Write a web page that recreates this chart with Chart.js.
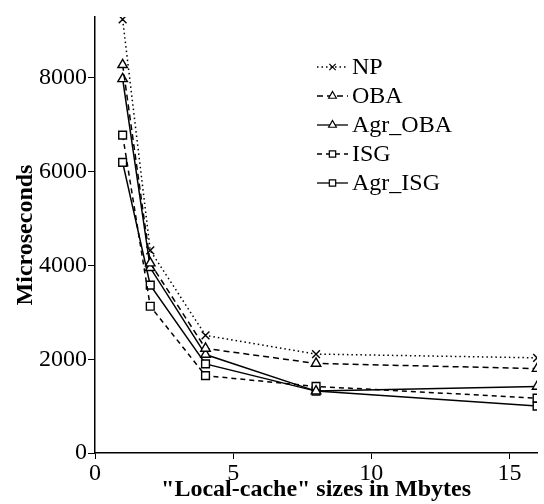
<!DOCTYPE html>
<html>
<head>
<meta charset="utf-8">
<script src="https://cdn.jsdelivr.net/npm/chart.js@4.4.1/dist/chart.umd.min.js"></script>
<style>
  html, body { margin: 0; padding: 0; background: #fff; }
  #wrap { width: 544px; height: 504px; }
</style>
</head>
<body>
<div id="wrap"><canvas id="chart"></canvas></div>
<script>
// cache sizes (Mbytes)
const cacheSizes = [1, 2, 4, 8, 16];

// series values (microseconds)
const npValues     = [9250, 4320, 2510, 2110, 2030];
const obaValues    = [8280, 4050, 2230, 1910, 1800];
const agrObaValues = [7980, 3950, 2100, 1320, 1420];
const isgValues    = [6780, 3130, 1650, 1420, 1170];
const agrIsgValues = [6200, 3580, 1900, 1320, 1000];

const xTicks = [0, 5, 10, 15];
const yTicks = [0, 2000, 4000, 6000, 8000];

const serif = "'Liberation Serif', 'Times New Roman', serif";

const toPoints = (vals) => vals.map((v, i) => ({ x: cacheSizes[i], y: v }));

const makeSet = (label, vals, dash, style) => ({
  label: label,
  data: toPoints(vals),
  borderColor: "#000",
  backgroundColor: "#fff",
  borderWidth: 1.5,
  borderDash: dash,
  pointStyle: style,
  pointRadius: 5.5,
  pointBorderWidth: 1.4,
  pointBorderColor: "#000",
  pointBackgroundColor: "#fff",
  tension: 0,
});

// legend drawn inside the plot area
const innerLegend = {
  id: "innerLegend",
  afterDraw(chart) {
    const ctx = chart.ctx;
    const x0 = 317, x1 = 348, y0 = 67, step = 29;
    chart.data.datasets.forEach((ds, i) => {
      const y = y0 + i * step;
      ctx.save();
      ctx.strokeStyle = "#000";
      ctx.lineWidth = 1.3;
      ctx.setLineDash(ds.borderDash);
      ctx.beginPath();
      ctx.moveTo(x0, y);
      ctx.lineTo(x1, y);
      ctx.stroke();
      ctx.setLineDash([]);
      ctx.fillStyle = "#fff";
      ctx.lineWidth = 1.2;
      Chart.helpers.drawPoint(ctx, { pointStyle: ds.pointStyle, rotation: 0, radius: 4.5, borderWidth: 1.2 }, (x0 + x1) / 2, y);
      ctx.fillStyle = "#000";
      ctx.font = "24px " + serif;
      ctx.textBaseline = "middle";
      ctx.fillText(ds.label, x1 + 4, y + 1);
      ctx.restore();
    });
  },
};

new Chart(document.getElementById("chart"), {
  type: "line",
  plugins: [innerLegend],
  data: {
    datasets: [
      makeSet("NP", npValues, [1.5, 3], "crossRot"),
      makeSet("OBA", obaValues, [6, 4], "triangle"),
      makeSet("Agr_OBA", agrObaValues, [], "triangle"),
      makeSet("ISG", isgValues, [5, 4], "rect"),
      makeSet("Agr_ISG", agrIsgValues, [], "rect"),
    ],
  },
  options: {
    responsive: true,
    maintainAspectRatio: false,
    animation: false,
    layout: { padding: { top: 17, right: 4, left: 0, bottom: 0 } },
    plugins: {
      legend: { display: false },
      tooltip: { enabled: false },
    },
    scales: {
      x: {
        type: "linear",
        min: 0,
        max: 16,
        afterBuildTicks: (scale) => { scale.ticks = xTicks.map((v) => ({ value: v })); },
        afterFit: (scale) => { scale.height = 51; },
        border: { display: true, color: "#000", width: 1.5 },
        grid: { drawOnChartArea: false, drawTicks: true, tickLength: 6, color: "#000" },
        ticks: { color: "#000", font: { family: serif, size: 24 }, padding: 0, maxRotation: 0, callback: (v) => String(v) },
        title: {
          display: true,
          text: "\"Local-cache\" sizes in Mbytes",
          color: "#000",
          font: { family: serif, size: 24, weight: "bold" },
          padding: { top: -4, bottom: 0 },
        },
      },
      y: {
        type: "linear",
        min: 0,
        max: 9300,
        afterBuildTicks: (scale) => { scale.ticks = yTicks.map((v) => ({ value: v })); },
        afterFit: (scale) => { scale.width = 95; },
        border: { display: true, color: "#000", width: 1.5 },
        grid: { drawOnChartArea: false, drawTicks: true, tickLength: 7, color: "#000" },
        ticks: { color: "#000", font: { family: serif, size: 24 }, padding: 1, callback: (v) => String(v) },
        title: {
          display: true,
          text: "Microseconds",
          color: "#000",
          font: { family: serif, size: 24, weight: "bold" },
          padding: { top: 11, bottom: 0 },
        },
      },
    },
  },
});
</script>
</body>
</html>
